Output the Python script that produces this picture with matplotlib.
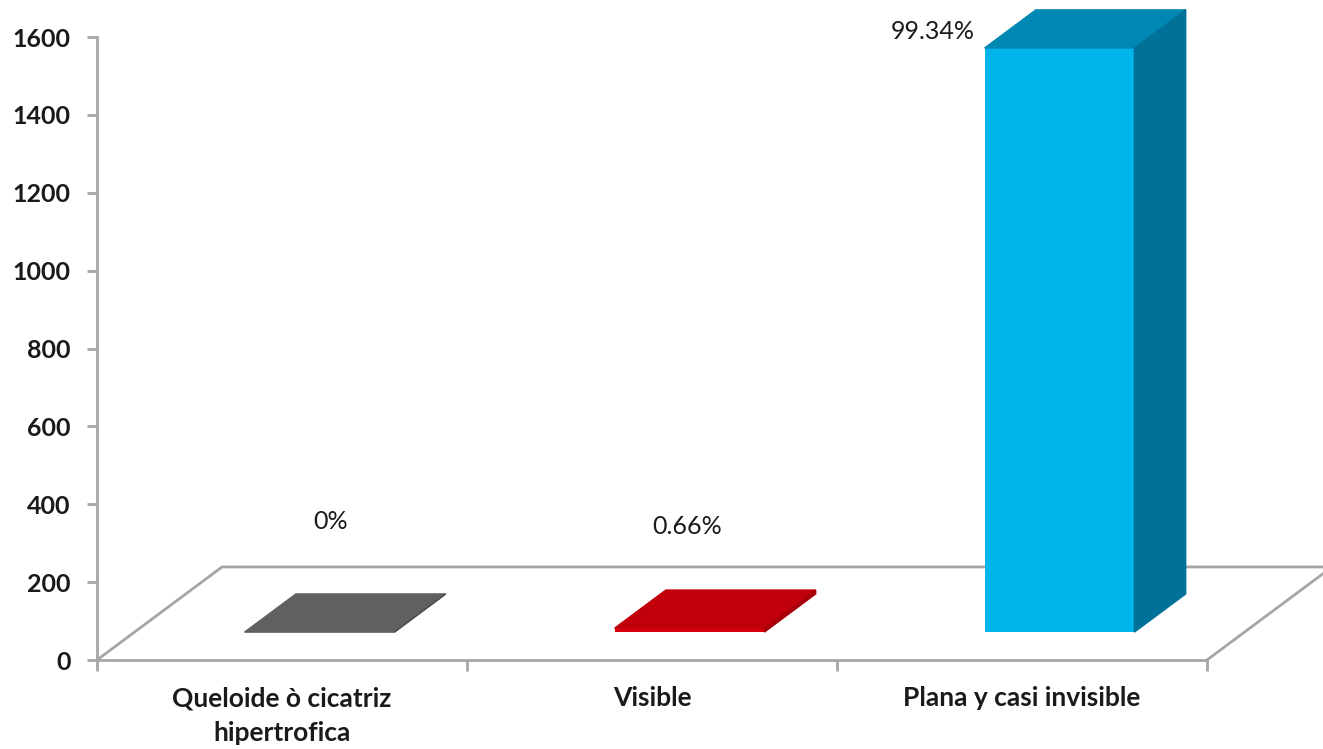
import numpy as np
import matplotlib
matplotlib.use('agg')
import matplotlib.pyplot as plt
from matplotlib.patches import Polygon

categories = ['Queloide ò cicatriz\nhipertrofica', 'Visible', 'Plana y casi invisible']
values = [0, 10, 1500]
yticks = [0, 200, 400, 600, 800, 1000, 1200, 1400, 1600]

front_colors = ['#7a7a7a', '#d8000e', '#00b4ec']
top_colors = ['#606060', '#c2000b', '#0088b4']
side_colors = ['#4a4a4a', '#a8000a', '#00729a']

plt.rcParams['font.family'] = ['Lato', 'DejaVu Sans']

fig = plt.figure(figsize=(13.23, 7.49), dpi=100)
ax = fig.add_axes([0.0733, 0.1188, 0.839, 0.8318])
ax.set_xlim(0, 3)
ax.set_ylim(0, 1600)

# oblique depth of the floor (category units, value units)
ddx, ddy = 0.338, 239
f0, f1 = 0.30, 0.71
grid_c = '#a6a6a6'

# floor outline
ax.plot([0, ddx, 3 + ddx], [0, ddy, ddy], color=grid_c, lw=2, clip_on=False, zorder=1)
ax.plot([3, 3 + ddx], [0, ddy], color=grid_c, lw=2, clip_on=False, zorder=1)

total = sum(values)
width = 0.405
centers = np.arange(len(values)) + 0.5 + f0 * ddx
base = f0 * ddy
bdx, bdy = (f1 - f0) * ddx, (f1 - f0) * ddy

ax.bar(centers, values, width, bottom=base, color=front_colors, zorder=3)
for c, v, tc, sc in zip(centers, values, top_colors, side_colors):
    l, r = c - width / 2, c + width / 2
    top = base + v
    ax.add_patch(Polygon([(l, top), (r, top), (r + bdx, top + bdy), (l + bdx, top + bdy)],
                         closed=True, color=tc, zorder=4, clip_on=False))
    ax.add_patch(Polygon([(r, base), (r, top), (r + bdx, top + bdy), (r + bdx, base + bdy)],
                         closed=True, color=sc, zorder=4, clip_on=False))

# percentage labels
label_dx = [0.13, 0.095, -0.24]
label_dy = [357, 332, 114]
for i, v in enumerate(values):
    pct = v / total * 100
    txt = '0%' if v == 0 else f'{pct:.2f}%'
    ax.text(i + 0.5 + label_dx[i], v + label_dy[i], txt, ha='center', va='center',
            fontsize=18, color='#1a1a1a', clip_on=False)

for s in ['top', 'right']:
    ax.spines[s].set_visible(False)
for s in ['left', 'bottom']:
    ax.spines[s].set_color(grid_c)
    ax.spines[s].set_linewidth(2)

ax.set_yticks(yticks)
ax.set_yticklabels([str(t) for t in yticks], fontsize=18, fontweight='bold', color='#1a1a1a')
ax.tick_params(axis='y', length=7, width=2, color=grid_c, pad=12)

ax.set_xticks([0, 1, 2, 3])
ax.set_xticklabels([])
ax.set_xticks([0.5, 1.5, 2.5], minor=True)
ax.set_xticklabels(categories, minor=True, fontsize=19, fontweight='bold', color='#1a1a1a',
                   linespacing=1.55)
ax.tick_params(axis='x', which='major', length=8, width=2, color=grid_c)
ax.tick_params(axis='x', which='minor', length=0, pad=19)

fig.savefig('out.png', dpi=100)
